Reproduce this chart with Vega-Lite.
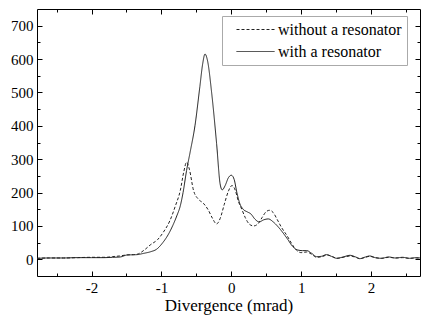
{
  "$schema": "https://vega.github.io/schema/vega-lite/v6.json",
  "width": 383,
  "height": 267,
  "autosize": {"type": "none"},
  "padding": {"left": 37, "top": 9, "right": 2, "bottom": 44},
  "background": "white",
  "config": {
    "view": {"stroke": "black", "strokeWidth": 1},
    "font": "Liberation Serif",
    "axis": {"grid": false, "domain": false, "tickColor": "black", "labelColor": "black", "labelFont": "Liberation Serif", "titleFont": "Liberation Serif", "titleFontWeight": "normal", "titleColor": "black"},
    "legend": {"labelFont": "Liberation Serif"},
    "line": {"color": "#222", "strokeWidth": 1}
  },
  "data": {
    "values": [
      {"x": -2.78, "y": 3, "s": "without a resonator"},
      {"x": -2.6, "y": 4, "s": "without a resonator"},
      {"x": -2.4, "y": 4, "s": "without a resonator"},
      {"x": -2.2, "y": 5, "s": "without a resonator"},
      {"x": -2.0, "y": 6, "s": "without a resonator"},
      {"x": -1.8, "y": 6, "s": "without a resonator"},
      {"x": -1.7, "y": 8, "s": "without a resonator"},
      {"x": -1.6, "y": 10, "s": "without a resonator"},
      {"x": -1.5, "y": 13, "s": "without a resonator"},
      {"x": -1.4, "y": 14, "s": "without a resonator"},
      {"x": -1.35, "y": 15, "s": "without a resonator"},
      {"x": -1.25, "y": 27, "s": "without a resonator"},
      {"x": -1.16, "y": 43, "s": "without a resonator"},
      {"x": -1.05, "y": 60, "s": "without a resonator"},
      {"x": -0.97, "y": 82, "s": "without a resonator"},
      {"x": -0.88, "y": 115, "s": "without a resonator"},
      {"x": -0.8, "y": 160, "s": "without a resonator"},
      {"x": -0.73, "y": 206, "s": "without a resonator"},
      {"x": -0.68, "y": 262, "s": "without a resonator"},
      {"x": -0.64, "y": 291, "s": "without a resonator"},
      {"x": -0.6, "y": 270, "s": "without a resonator"},
      {"x": -0.54, "y": 206, "s": "without a resonator"},
      {"x": -0.47, "y": 180, "s": "without a resonator"},
      {"x": -0.4, "y": 168, "s": "without a resonator"},
      {"x": -0.33, "y": 148, "s": "without a resonator"},
      {"x": -0.27, "y": 123, "s": "without a resonator"},
      {"x": -0.21, "y": 106, "s": "without a resonator"},
      {"x": -0.16, "y": 122, "s": "without a resonator"},
      {"x": -0.1, "y": 165, "s": "without a resonator"},
      {"x": -0.04, "y": 205, "s": "without a resonator"},
      {"x": 0.01, "y": 221, "s": "without a resonator"},
      {"x": 0.06, "y": 205, "s": "without a resonator"},
      {"x": 0.1, "y": 175, "s": "without a resonator"},
      {"x": 0.15, "y": 150, "s": "without a resonator"},
      {"x": 0.2, "y": 125, "s": "without a resonator"},
      {"x": 0.26, "y": 105, "s": "without a resonator"},
      {"x": 0.32, "y": 100, "s": "without a resonator"},
      {"x": 0.38, "y": 106, "s": "without a resonator"},
      {"x": 0.44, "y": 125, "s": "without a resonator"},
      {"x": 0.5, "y": 143, "s": "without a resonator"},
      {"x": 0.55, "y": 147, "s": "without a resonator"},
      {"x": 0.6, "y": 140, "s": "without a resonator"},
      {"x": 0.66, "y": 118, "s": "without a resonator"},
      {"x": 0.72, "y": 95, "s": "without a resonator"},
      {"x": 0.8, "y": 70, "s": "without a resonator"},
      {"x": 0.87, "y": 45, "s": "without a resonator"},
      {"x": 0.93, "y": 28, "s": "without a resonator"},
      {"x": 1.0, "y": 20, "s": "without a resonator"},
      {"x": 1.08, "y": 22, "s": "without a resonator"},
      {"x": 1.15, "y": 15, "s": "without a resonator"},
      {"x": 1.22, "y": 6, "s": "without a resonator"},
      {"x": 1.3, "y": 8, "s": "without a resonator"},
      {"x": 1.37, "y": 13, "s": "without a resonator"},
      {"x": 1.45, "y": 8, "s": "without a resonator"},
      {"x": 1.51, "y": 3, "s": "without a resonator"},
      {"x": 1.6, "y": 6, "s": "without a resonator"},
      {"x": 1.7, "y": 10, "s": "without a resonator"},
      {"x": 1.78, "y": 6, "s": "without a resonator"},
      {"x": 1.84, "y": 2, "s": "without a resonator"},
      {"x": 1.92, "y": 6, "s": "without a resonator"},
      {"x": 1.98, "y": 9, "s": "without a resonator"},
      {"x": 2.06, "y": 5, "s": "without a resonator"},
      {"x": 2.15, "y": 3, "s": "without a resonator"},
      {"x": 2.25, "y": 6, "s": "without a resonator"},
      {"x": 2.35, "y": 4, "s": "without a resonator"},
      {"x": 2.45, "y": 5, "s": "without a resonator"},
      {"x": 2.55, "y": 3, "s": "without a resonator"},
      {"x": 2.65, "y": 4, "s": "without a resonator"},
      {"x": 2.7, "y": 3, "s": "without a resonator"},
      {"x": -2.78, "y": 3, "s": "with a resonator"},
      {"x": -2.6, "y": 4, "s": "with a resonator"},
      {"x": -2.4, "y": 4, "s": "with a resonator"},
      {"x": -2.2, "y": 5, "s": "with a resonator"},
      {"x": -2.0, "y": 5, "s": "with a resonator"},
      {"x": -1.83, "y": 5, "s": "with a resonator"},
      {"x": -1.7, "y": 6, "s": "with a resonator"},
      {"x": -1.59, "y": 7, "s": "with a resonator"},
      {"x": -1.49, "y": 13, "s": "with a resonator"},
      {"x": -1.35, "y": 14, "s": "with a resonator"},
      {"x": -1.25, "y": 18, "s": "with a resonator"},
      {"x": -1.15, "y": 23, "s": "with a resonator"},
      {"x": -1.07, "y": 30, "s": "with a resonator"},
      {"x": -0.98, "y": 50, "s": "with a resonator"},
      {"x": -0.9, "y": 75, "s": "with a resonator"},
      {"x": -0.84, "y": 100, "s": "with a resonator"},
      {"x": -0.78, "y": 130, "s": "with a resonator"},
      {"x": -0.73, "y": 160, "s": "with a resonator"},
      {"x": -0.69, "y": 200, "s": "with a resonator"},
      {"x": -0.64, "y": 266, "s": "with a resonator"},
      {"x": -0.59, "y": 320, "s": "with a resonator"},
      {"x": -0.52, "y": 400, "s": "with a resonator"},
      {"x": -0.45, "y": 517, "s": "with a resonator"},
      {"x": -0.41, "y": 585, "s": "with a resonator"},
      {"x": -0.376, "y": 615, "s": "with a resonator"},
      {"x": -0.34, "y": 595, "s": "with a resonator"},
      {"x": -0.28, "y": 497, "s": "with a resonator"},
      {"x": -0.21, "y": 346, "s": "with a resonator"},
      {"x": -0.16, "y": 226, "s": "with a resonator"},
      {"x": -0.13, "y": 208, "s": "with a resonator"},
      {"x": -0.09, "y": 220, "s": "with a resonator"},
      {"x": -0.04, "y": 245, "s": "with a resonator"},
      {"x": 0.0, "y": 252, "s": "with a resonator"},
      {"x": 0.04, "y": 240, "s": "with a resonator"},
      {"x": 0.08, "y": 200, "s": "with a resonator"},
      {"x": 0.12, "y": 168, "s": "with a resonator"},
      {"x": 0.17, "y": 150, "s": "with a resonator"},
      {"x": 0.23, "y": 142, "s": "with a resonator"},
      {"x": 0.28, "y": 136, "s": "with a resonator"},
      {"x": 0.34, "y": 120, "s": "with a resonator"},
      {"x": 0.4, "y": 112, "s": "with a resonator"},
      {"x": 0.46, "y": 118, "s": "with a resonator"},
      {"x": 0.53, "y": 121, "s": "with a resonator"},
      {"x": 0.6, "y": 112, "s": "with a resonator"},
      {"x": 0.7, "y": 90, "s": "with a resonator"},
      {"x": 0.8, "y": 62, "s": "with a resonator"},
      {"x": 0.88, "y": 38, "s": "with a resonator"},
      {"x": 0.95, "y": 28, "s": "with a resonator"},
      {"x": 1.02, "y": 26, "s": "with a resonator"},
      {"x": 1.08, "y": 26, "s": "with a resonator"},
      {"x": 1.15, "y": 18, "s": "with a resonator"},
      {"x": 1.22, "y": 8, "s": "with a resonator"},
      {"x": 1.29, "y": 9, "s": "with a resonator"},
      {"x": 1.36, "y": 14, "s": "with a resonator"},
      {"x": 1.43, "y": 9, "s": "with a resonator"},
      {"x": 1.51, "y": 3, "s": "with a resonator"},
      {"x": 1.6, "y": 7, "s": "with a resonator"},
      {"x": 1.7, "y": 12, "s": "with a resonator"},
      {"x": 1.78, "y": 7, "s": "with a resonator"},
      {"x": 1.84, "y": 2, "s": "with a resonator"},
      {"x": 1.92, "y": 7, "s": "with a resonator"},
      {"x": 1.98, "y": 10, "s": "with a resonator"},
      {"x": 2.06, "y": 5, "s": "with a resonator"},
      {"x": 2.15, "y": 3, "s": "with a resonator"},
      {"x": 2.25, "y": 7, "s": "with a resonator"},
      {"x": 2.35, "y": 4, "s": "with a resonator"},
      {"x": 2.45, "y": 6, "s": "with a resonator"},
      {"x": 2.55, "y": 3, "s": "with a resonator"},
      {"x": 2.65, "y": 5, "s": "with a resonator"},
      {"x": 2.7, "y": 4, "s": "with a resonator"}
    ]
  },
  "resolve": {"axis": {"x": "independent", "y": "independent"}},
  "layer": [
    {
      "mark": {"type": "line", "interpolate": "monotone", "clip": true},
      "encoding": {
        "x": {"field": "x", "type": "quantitative", "scale": {"domain": [-2.78, 2.7], "nice": false, "zero": false},
          "axis": {"orient": "bottom", "values": [-2, -1, 0, 1, 2], "tickSize": -5, "labelPadding": 9, "labelFontSize": 15, "labelExpr": "toString(datum.value)", "title": "Divergence (mrad)", "titleFontSize": 17, "titlePadding": 2}},
        "y": {"field": "y", "type": "quantitative", "scale": {"domain": [-50, 750], "nice": false, "zero": false},
          "axis": {"orient": "left", "values": [0, 100, 200, 300, 400, 500, 600, 700], "tickSize": -5, "labelPadding": 9, "labelFontSize": 15, "title": null}},
        "strokeDash": {"field": "s", "type": "nominal",
          "scale": {"domain": ["without a resonator", "with a resonator"], "range": [[3, 2], [1, 0]]},
          "legend": {"title": null, "orient": "none", "legendX": 185, "legendY": 7, "symbolType": "M-2.375,0H2.375", "symbolSize": 256, "symbolStrokeWidth": 1, "symbolStrokeColor": "#222", "labelFontSize": 16, "labelColor": "black", "labelOffset": 14, "padding": 5, "rowPadding": 5, "strokeColor": "#aaaaaa", "fillColor": "white", "symbolOffset": 20, "labelLimit": 300}}
      }
    },
    {
      "mark": {"type": "line", "strokeOpacity": 0},
      "encoding": {
        "x": {"field": "x", "type": "quantitative", "axis": {"orient": "top", "values": [-2, -1, 0, 1, 2], "tickSize": -5, "labels": false, "title": null}},
        "y": {"field": "y", "type": "quantitative", "axis": {"orient": "right", "values": [0, 100, 200, 300, 400, 500, 600, 700], "tickSize": -5, "labels": false, "title": null}},
        "detail": {"field": "s"}
      }
    },
    {
      "mark": {"type": "line", "strokeOpacity": 0},
      "encoding": {
        "x": {"field": "x", "type": "quantitative", "axis": {"orient": "bottom", "values": [-2.5, -1.5, -0.5, 0.5, 1.5, 2.5], "tickSize": -3, "labels": false, "title": null}},
        "y": {"field": "y", "type": "quantitative", "axis": {"orient": "left", "values": [50, 150, 250, 350, 450, 550, 650], "tickSize": -3, "labels": false, "title": null}},
        "detail": {"field": "s"}
      }
    },
    {
      "mark": {"type": "line", "strokeOpacity": 0},
      "encoding": {
        "x": {"field": "x", "type": "quantitative", "axis": {"orient": "top", "values": [-2.5, -1.5, -0.5, 0.5, 1.5, 2.5], "tickSize": -3, "labels": false, "title": null}},
        "y": {"field": "y", "type": "quantitative", "axis": {"orient": "right", "values": [50, 150, 250, 350, 450, 550, 650], "tickSize": -3, "labels": false, "title": null}},
        "detail": {"field": "s"}
      }
    }
  ]
}
